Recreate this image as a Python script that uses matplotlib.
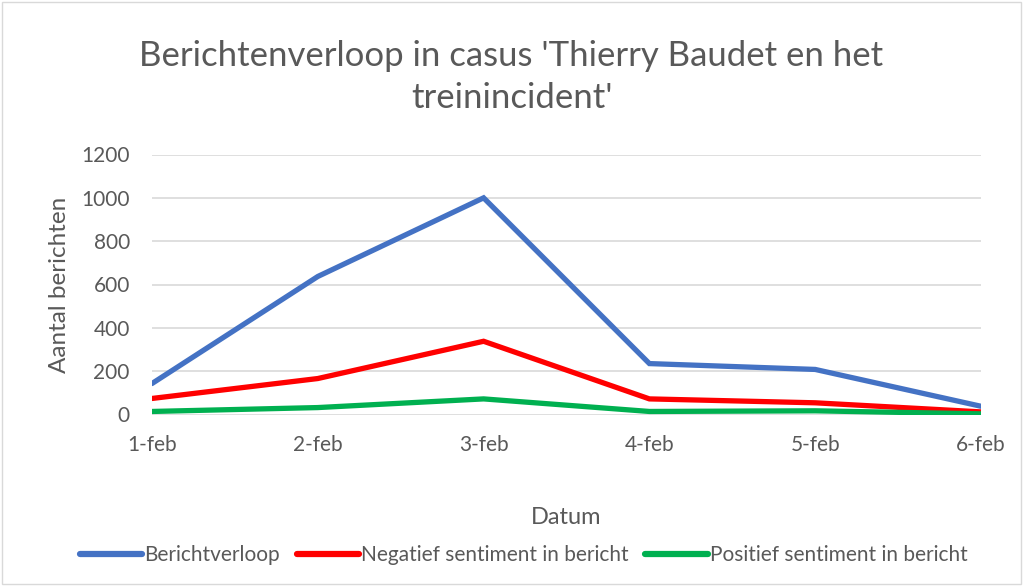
import matplotlib.pyplot as plt
from matplotlib.patches import Rectangle

# Data
dates = ['1-feb', '2-feb', '3-feb', '4-feb', '5-feb', '6-feb']
berichtverloop = [143, 637, 1000, 235, 208, 38]
negatief = [74, 166, 338, 72, 54, 12]
positief = [14, 32, 72, 14, 17, 3]
y_ticks = [0, 200, 400, 600, 800, 1000, 1200]

grey = '#595959'
plt.rcParams['font.family'] = ['Lato', 'DejaVu Sans']

fig = plt.figure(figsize=(10.23, 5.86), dpi=100)
fig.patches.append(Rectangle((0.002, 0.003), 0.996, 0.994, transform=fig.transFigure,
                             fill=False, edgecolor='#d9d9d9', linewidth=1))
ax = fig.add_axes([152 / 1023, 1 - 414.5 / 586, (981 - 152) / 1023, (414.5 - 154.5) / 586])

x = range(len(dates))
ax.plot(x, berichtverloop, color='#4472c4', lw=3.8, solid_capstyle='round', solid_joinstyle='miter',
        label='Berichtverloop')
ax.plot(x, negatief, color='#ff0000', lw=3.8, solid_capstyle='round', solid_joinstyle='miter',
        label='Negatief sentiment in bericht')
ax.plot(x, positief, color='#00b050', lw=3.8, solid_capstyle='round', solid_joinstyle='miter',
        label='Positief sentiment in bericht')

ax.set_xlim(0, len(dates) - 1)
ax.set_ylim(0, 1200)
ax.set_yticks(y_ticks)
ax.set_xticks(list(x))
ax.set_xticklabels(dates)
ax.grid(axis='y', color='#d9d9d9', linewidth=1.2)
ax.set_axisbelow(True)
for s in ax.spines.values():
    s.set_visible(False)
ax.tick_params(length=0, labelsize=15, labelcolor=grey)
ax.tick_params(axis='x', pad=15)
ax.tick_params(axis='y', pad=16)

ax.set_xlabel('Datum', fontsize=17, color=grey, labelpad=37)
ax.set_ylabel('Aantal berichten', fontsize=17.5, color=grey, labelpad=8)

fig.text(0.5, 1 - 77 / 586, "Berichtenverloop in casus 'Thierry Baudet en het\ntreinincident'",
         ha='center', va='center', fontsize=25, color=grey, linespacing=1.4)

leg = fig.legend(loc='center', bbox_to_anchor=(0.512, 1 - 555 / 586),
                 ncol=3, frameon=False, fontsize=15, labelcolor=grey, handlelength=3.0,
                 handletextpad=0.1, columnspacing=0.8)
for h in leg.get_lines():
    h.set_linewidth(4.5)

fig.savefig('out.png', dpi=100)
